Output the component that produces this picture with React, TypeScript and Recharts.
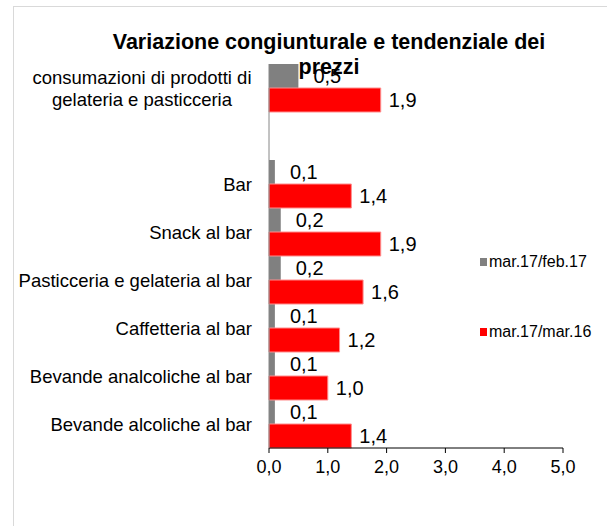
import React from 'react';
import { BarChart, Bar, XAxis, YAxis, LabelList } from 'recharts';

const categories = [
  'consumazioni di prodotti di gelateria e pasticceria',
  '',
  'Bar',
  'Snack al bar',
  'Pasticceria e gelateria al bar',
  'Caffetteria al bar',
  'Bevande analcoliche al bar',
  'Bevande alcoliche al bar',
];
const congiunturale = [0.5, null, 0.1, 0.2, 0.2, 0.1, 0.1, 0.1];
const tendenziale = [1.9, null, 1.4, 1.9, 1.6, 1.2, 1.0, 1.4];
const seriesNames = ['mar.17/feb.17', 'mar.17/mar.16'];
const xTicks = [0, 1, 2, 3, 4, 5];

const data = categories.map((name, i) => ({
  name,
  cong: congiunturale[i],
  tend: tendenziale[i],
}));

const FONT = 'Arial, "Liberation Sans", sans-serif';
const comma = (v: any) => (v === null || v === undefined ? '' : Number(v).toFixed(1).replace('.', ','));

// wrap long category names onto two lines like Excel does
const wrap = (s: string, max = 30) => {
  const words = s.split(' ');
  const lines: string[] = [];
  let cur = '';
  words.forEach((w) => {
    const next = cur ? cur + ' ' + w : w;
    if (next.length > max && cur) {
      lines.push(cur);
      cur = w;
    } else cur = next;
  });
  if (cur) lines.push(cur);
  return lines;
};

const CategoryTick = (props: any) => {
  const { x, y, payload } = props;
  const lines = wrap(String(payload.value || ''));
  if (lines.length <= 1) {
    return (
      <text x={x} y={y} dy="0.355em" textAnchor="end" fontSize={18.5} fill="#000" fontFamily={FONT}>
        {lines[0] || ''}
      </text>
    );
  }
  const cx = x - 110;
  return (
    <text x={cx} y={y} textAnchor="middle" fontSize={18.5} fill="#000" fontFamily={FONT}>
      {lines.map((l, i) => (
        <tspan key={i} x={cx} dy={i === 0 ? -10.5 + 6.5 : 21.5}>
          {l}
        </tspan>
      ))}
    </text>
  );
};

export default function App() {
  return (
    <div
      style={{
        position: 'absolute',
        left: 0,
        top: 0,
        width: 607,
        height: 526,
        overflow: 'hidden',
        background: '#fff',
        fontFamily: FONT,
      }}
    >
      <div
        style={{
          position: 'absolute',
          left: 13,
          top: 6,
          width: 700,
          height: 700,
          border: '1px solid #d9d9d9',
        }}
      />
      <div style={{ position: 'absolute', left: 0, top: 0 }}>
        <BarChart
          width={607}
          height={526}
          data={data}
          layout="vertical"
          margin={{ top: 64, right: 44, bottom: 48, left: 0 }}
          barCategoryGap={0}
          barGap={0}
        >
          <XAxis
            type="number"
            domain={[0, 5]}
            ticks={xTicks}
            tickFormatter={comma}
            axisLine={{ stroke: '#000' }}
            tickLine={{ stroke: '#000' }}
            tickSize={5}
            tickMargin={7}
            tick={{ fontSize: 18, fill: '#000', fontFamily: FONT }}
            height={30}
          />
          <YAxis
            type="category"
            dataKey="name"
            width={269}
            axisLine={{ stroke: '#868686' }}
            tickLine={false}
            tickSize={0}
            tickMargin={17}
            tick={<CategoryTick />}
            interval={0}
          />
          <Bar dataKey="cong" name={seriesNames[0]} fill="#808080" isAnimationActive={false}>
            <LabelList
              dataKey="cong"
              position="right"
              offset={15}
              formatter={comma}
              fontSize={20}
              fill="#000"
              fontFamily={FONT}
            />
          </Bar>
          <Bar
            dataKey="tend"
            name={seriesNames[1]}
            fill="#ff0000"
            stroke="#ff8c8c"
            strokeWidth={1}
            isAnimationActive={false}
          >
            <LabelList
              dataKey="tend"
              position="right"
              offset={8}
              formatter={comma}
              fontSize={20}
              fill="#000"
              fontFamily={FONT}
            />
          </Bar>
        </BarChart>
      </div>
      <div
        style={{
          position: 'absolute',
          left: 79,
          top: 30,
          width: 500,
          textAlign: 'center',
          fontWeight: 'bold',
          fontSize: 21.5,
          lineHeight: '25px',
          color: '#000',
        }}
      >
        Variazione congiunturale e tendenziale dei
        <br />
        prezzi
      </div>
      {seriesNames.map((n, i) => (
        <div
          key={n}
          style={{
            position: 'absolute',
            left: 480,
            top: i === 0 ? 252 : 322,
            height: 20,
            display: 'flex',
            alignItems: 'center',
            fontSize: 16,
            color: '#000',
          }}
        >
          <span
            style={{
              display: 'inline-block',
              width: 7,
              height: 8,
              marginRight: 2,
              background: i === 0 ? '#808080' : '#ff0000',
            }}
          />
          {n}
        </div>
      ))}
    </div>
  );
}
